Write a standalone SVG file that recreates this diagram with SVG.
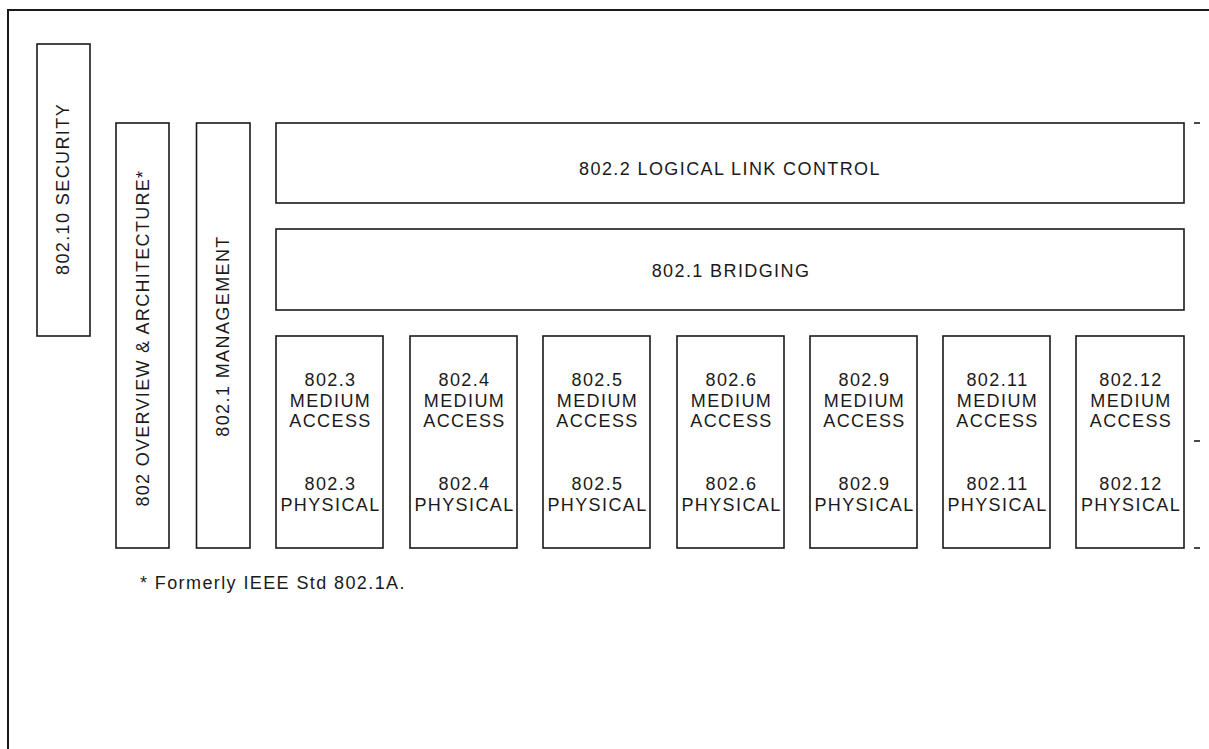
<svg xmlns="http://www.w3.org/2000/svg" width="1209" height="749" viewBox="0 0 1209 749">
<style>
.box{fill:#fff;stroke:#1a1a1a;stroke-width:1.6}
.frame{fill:none;stroke:#1a1a1a;stroke-width:2}
.tick{stroke:#1a1a1a;stroke-width:1.6}
text{font-family:"Liberation Sans",Arial,sans-serif;font-size:18px;letter-spacing:1.4px;fill:#1a1a1a;text-anchor:middle}
.note{text-anchor:start}
</style>
<rect width="1209" height="749" fill="#fff"/>
<path class="frame" d="M8,749 V10 H1209"/>
<g id="security">
<rect class="box" x="37" y="44" width="53" height="292"/>
<text transform="translate(69,189) rotate(-90)">802.10 SECURITY</text>
</g>
<g id="overview">
<rect class="box" x="116" y="123" width="53" height="425"/>
<text transform="translate(148.5,338) rotate(-90)" textLength="337" lengthAdjust="spacing">802 OVERVIEW &amp; ARCHITECTURE*</text>
</g>
<g id="management">
<rect class="box" x="196.5" y="123" width="53.5" height="425"/>
<text transform="translate(228.5,336) rotate(-90)">802.1 MANAGEMENT</text>
</g>
<g id="llc">
<rect class="box" x="276" y="123" width="908" height="80"/>
<text x="730" y="175">802.2 LOGICAL LINK CONTROL</text>
</g>
<g id="bridging">
<rect class="box" x="276" y="229" width="908" height="81"/>
<text x="731" y="277">802.1 BRIDGING</text>
</g>
<g id="m8023">
<rect class="box" x="276" y="336" width="107" height="212"/>
<text x="330.5" y="386">802.3</text><text x="330.5" y="406.5">MEDIUM</text><text x="330.5" y="427">ACCESS</text>
<text x="330.5" y="490">802.3</text><text x="330.5" y="510.5">PHYSICAL</text>
</g>
<g id="m8024">
<rect class="box" x="410" y="336" width="107" height="212"/>
<text x="464.5" y="386">802.4</text><text x="464.5" y="406.5">MEDIUM</text><text x="464.5" y="427">ACCESS</text>
<text x="464.5" y="490">802.4</text><text x="464.5" y="510.5">PHYSICAL</text>
</g>
<g id="m8025">
<rect class="box" x="543" y="336" width="107" height="212"/>
<text x="597.5" y="386">802.5</text><text x="597.5" y="406.5">MEDIUM</text><text x="597.5" y="427">ACCESS</text>
<text x="597.5" y="490">802.5</text><text x="597.5" y="510.5">PHYSICAL</text>
</g>
<g id="m8026">
<rect class="box" x="677" y="336" width="107" height="212"/>
<text x="731.5" y="386">802.6</text><text x="731.5" y="406.5">MEDIUM</text><text x="731.5" y="427">ACCESS</text>
<text x="731.5" y="490">802.6</text><text x="731.5" y="510.5">PHYSICAL</text>
</g>
<g id="m8029">
<rect class="box" x="810" y="336" width="107" height="212"/>
<text x="864.5" y="386">802.9</text><text x="864.5" y="406.5">MEDIUM</text><text x="864.5" y="427">ACCESS</text>
<text x="864.5" y="490">802.9</text><text x="864.5" y="510.5">PHYSICAL</text>
</g>
<g id="m80211">
<rect class="box" x="943" y="336" width="107" height="212"/>
<text x="997.5" y="386">802.11</text><text x="997.5" y="406.5">MEDIUM</text><text x="997.5" y="427">ACCESS</text>
<text x="997.5" y="490">802.11</text><text x="997.5" y="510.5">PHYSICAL</text>
</g>
<g id="m80212">
<rect class="box" x="1076" y="336" width="108" height="212"/>
<text x="1131" y="386">802.12</text><text x="1131" y="406.5">MEDIUM</text><text x="1131" y="427">ACCESS</text>
<text x="1131" y="490">802.12</text><text x="1131" y="510.5">PHYSICAL</text>
</g>
<g id="connectors">
<line class="tick" x1="1194" y1="123" x2="1200" y2="123"/>
<line class="tick" x1="1194" y1="441" x2="1200" y2="441"/>
<line class="tick" x1="1194" y1="548" x2="1200" y2="548"/>
</g>
<g id="footnote">
<text class="note" x="140" y="589" letter-spacing="1.2">* Formerly IEEE Std 802.1A.</text>
</g>
</svg>
